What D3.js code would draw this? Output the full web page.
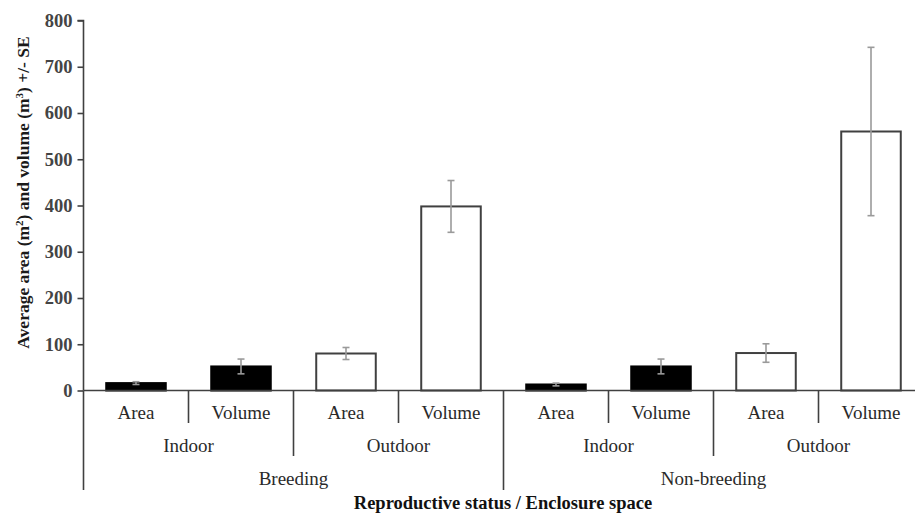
<!DOCTYPE html>
<html>
<head>
<meta charset="utf-8">
<script src="https://cdn.jsdelivr.net/npm/d3@7"></script>
<style>
  html, body { margin: 0; padding: 0; background: #fff; }
  svg { display: block; }
  text { font-family: "Liberation Serif", "Times New Roman", serif; }
</style>
</head>
<body>
<svg id="chart" width="915" height="514"></svg>
<script>
// Enclosure space per reproductive status
const spaces    = ["Area", "Volume", "Area", "Volume", "Area", "Volume", "Area", "Volume"];
const locations = ["Indoor", "Outdoor", "Indoor", "Outdoor"];
const statuses  = ["Breeding", "Non-breeding"];
const means     = [16, 52, 80, 398, 13, 52, 81, 560];
const errors    = [3, 16, 13, 56, 3, 16, 20, 182];
const indoor    = [true, true, false, false, true, true, false, false];
const yTicks    = [0, 100, 200, 300, 400, 500, 600, 700, 800];

const svg = d3.select("#chart");
const axisColor = "#404040";
const textColor = "#2a2a2a";

const plotLeft = 83.5, plotRight = 923.5, plotTop = 20.5, plotBase = 390.5;

const x = d3.scaleBand()
  .domain(d3.range(spaces.length))
  .range([plotLeft, plotRight])
  .paddingInner(0.433)
  .paddingOuter(0.2165);

const y = d3.scaleLinear().domain([0, 800]).range([plotBase, plotTop]);

// Y axis
const yAxis = d3.axisLeft(y).tickValues(yTicks).tickSize(6).tickPadding(5);
const gy = svg.append("g").attr("transform", `translate(${plotLeft},0)`).call(yAxis);
gy.select(".domain").attr("stroke", axisColor).attr("stroke-width", 1.6).attr("d", `M-6,${plotTop}H0V${plotBase}`);
gy.selectAll(".tick line").attr("stroke", axisColor).attr("stroke-width", 1.6);
gy.selectAll(".tick text")
  .attr("fill", "#444")
  .style("font-family", "'Liberation Serif', serif")
  .style("font-weight", "bold")
  .style("font-size", "18.5px");

// Bars
svg.append("g").selectAll("rect")
  .data(means)
  .join("rect")
  .attr("x", (d, i) => x(i))
  .attr("y", d => y(d))
  .attr("width", x.bandwidth())
  .attr("height", d => plotBase - y(d))
  .attr("fill", (d, i) => indoor[i] ? "#000" : "#fff")
  .attr("stroke", (d, i) => indoor[i] ? "#000" : axisColor)
  .attr("stroke-width", 2);

// Error bars (± SE)
const eb = svg.append("g").attr("stroke", "#9a9a9a").attr("stroke-width", 1.6);
means.forEach((m, i) => {
  const cx = x(i) + x.bandwidth() / 2;
  const hi = y(m + errors[i]), lo = y(m - errors[i]);
  eb.append("line").attr("x1", cx).attr("x2", cx).attr("y1", hi).attr("y2", lo);
  eb.append("line").attr("x1", cx - 3.5).attr("x2", cx + 3.5).attr("y1", hi).attr("y2", hi);
  eb.append("line").attr("x1", cx - 3.5).attr("x2", cx + 3.5).attr("y1", lo).attr("y2", lo);
});

// X axis baseline
svg.append("line")
  .attr("x1", plotLeft).attr("x2", plotRight)
  .attr("y1", plotBase).attr("y2", plotBase)
  .attr("stroke", axisColor).attr("stroke-width", 1.6);

// Hierarchical category separators
const step = x.step();
const depth = [423, 456, 490];
for (let k = 0; k <= spaces.length; k++) {
  const level = k % 4 === 0 ? 2 : (k % 2 === 0 ? 1 : 0);
  const xx = plotLeft + k * step;
  svg.append("line")
    .attr("x1", xx).attr("x2", xx)
    .attr("y1", plotBase).attr("y2", depth[level])
    .attr("stroke", axisColor).attr("stroke-width", 1.6);
}

// Category labels
const lab = svg.append("g").attr("fill", textColor).attr("font-size", 19).attr("text-anchor", "middle");
spaces.forEach((s, i) => {
  lab.append("text").attr("x", plotLeft + (i + 0.5) * step).attr("y", 419).text(s);
});
locations.forEach((s, i) => {
  lab.append("text").attr("x", plotLeft + (i * 2 + 1) * step).attr("y", 452).text(s);
});
statuses.forEach((s, i) => {
  lab.append("text").attr("x", plotLeft + (i * 4 + 2) * step).attr("y", 485).text(s);
});

// Axis titles
svg.append("text")
  .attr("x", 503).attr("y", 509)
  .attr("text-anchor", "middle")
  .attr("font-size", 18.5).attr("font-weight", "bold").attr("fill", "#111")
  .text("Reproductive status / Enclosure space");

const yt = svg.append("text")
  .attr("transform", "translate(29,192.5) rotate(-90)")
  .attr("text-anchor", "middle")
  .attr("font-size", 17.5).attr("font-weight", "bold").attr("fill", "#1a1a1a");
yt.append("tspan").text("Average area (m");
yt.append("tspan").attr("font-size", 11).attr("dy", -6).text("2");
yt.append("tspan").attr("dy", 6).text(") and volume (m");
yt.append("tspan").attr("font-size", 11).attr("dy", -6).text("3");
yt.append("tspan").attr("dy", 6).text(") +/- SE");
</script>
</body>
</html>
